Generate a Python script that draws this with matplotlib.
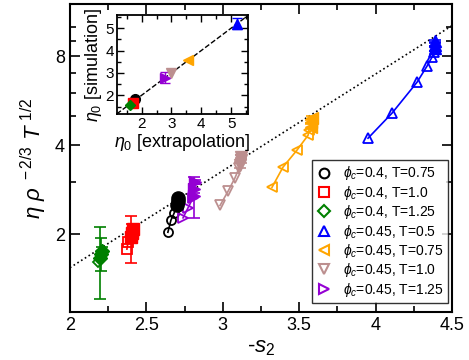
import numpy as np
import matplotlib
matplotlib.use('Agg')
import matplotlib.pyplot as plt
from matplotlib.ticker import FixedLocator, NullFormatter, MultipleLocator

plt.rcParams['font.family'] = ['Liberation Sans', 'DejaVu Sans']
plt.rcParams['mathtext.fontset'] = 'custom'
plt.rcParams['mathtext.rm'] = 'Liberation Sans'
plt.rcParams['mathtext.it'] = 'Liberation Sans:italic'

# series labels / styles
labels = [r'$\phi_c$=0.4, T=0.75', r'$\phi_c$=0.4, T=1.0', r'$\phi_c$=0.4, T=1.25',
          r'$\phi_c$=0.45, T=0.5', r'$\phi_c$=0.45, T=0.75', r'$\phi_c$=0.45, T=1.0',
          r'$\phi_c$=0.45, T=1.25']
colors = ['black', 'red', 'green', 'blue', 'orange', 'rosybrown', 'darkviolet']
markers = ['o', 's', 'D', '^', '<', 'v', '>']

# open symbols (finite-size runs): -s2 and eta*rho^-2/3*T^1/2
open_s = [[2.641, 2.661, 2.681],
          [2.373, 2.380],
          [2.183],
          [3.950, 4.107, 4.271, 4.336, 4.369, 4.382],
          [3.322, 3.394, 3.486, 3.558, 3.564],
          [2.982, 3.034, 3.080, 3.106],
          [2.740, 2.772, 2.805]]
open_v = [[2.03, 2.23, 2.35],
          [1.78, 1.88],
          [1.61],
          [4.22, 5.13, 6.53, 7.40, 7.94, 8.25],
          [2.88, 3.37, 3.85, 4.32, 4.50],
          [2.50, 2.79, 3.10, 3.34],
          [2.27, 2.45, 2.65]]

# filled symbols (extrapolated) with error bars
fill_s = [[2.700, 2.705, 2.710],
          [2.400, 2.406, 2.410],
          [2.200, 2.205, 2.208],
          [4.385, 4.388, 4.390],
          [3.575, 3.580, 3.585],
          [3.115, 3.120, 3.122],
          [2.810, 2.815, 2.820]]
fill_v = [[2.50, 2.58, 2.65],
          [1.95, 2.02, 2.08],
          [1.66, 1.72, 1.76],
          [8.50, 8.75, 9.00],
          [4.62, 4.80, 4.95],
          [3.42, 3.55, 3.65],
          [2.70, 2.85, 3.00]]
fill_err = [[0.03, 0.03, 0.03],
            [0.35, 0.14, 0.05],
            [0.45, 0.22, 0.05],
            [0.15, 0.10, 0.08],
            [0.08, 0.06, 0.05],
            [0.08, 0.06, 0.05],
            [0.43, 0.10, 0.05]]

# dotted guide: v = A*exp(k*(s-2))
guide_A = 1.54
guide_k = 0.754

# inset: eta0 extrapolation vs simulation
ins_x = [1.77, 1.70, 1.60, 5.20, 3.57, 3.00, 2.77]
ins_y = [1.84, 1.67, 1.58, 5.20, 3.58, 2.99, 2.78]
ins_err = [0.0, 0.0, 0.0, 0.25, 0.0, 0.0, 0.25]

fig = plt.figure(figsize=(4.69, 3.6), dpi=100)
ax = fig.add_axes([0.149, 0.133, 0.815, 0.856])

sg = np.linspace(2.0, 4.5, 100)
ax.plot(sg, guide_A * np.exp(guide_k * (sg - 2)), ':', color='black', lw=1.2, zorder=1)

ms_fill = {'o': 9.5, 's': 8.5, 'D': 7, '^': 8.5, '<': 8.5, 'v': 8.5, '>': 8.5}
for i in range(7):
    c = colors[i]
    m = markers[i]
    xs = open_s[i] + fill_s[i]
    ys = open_v[i] + fill_v[i]
    ax.plot(xs, ys, '-', color=c, lw=1.2, zorder=2)
    ax.plot(open_s[i], open_v[i], m, mfc='none', mec=c, mew=1.3,
            ms=6.5 if m != 'D' else 5.5, ls='none', zorder=3)
    ax.errorbar(fill_s[i], fill_v[i], yerr=fill_err[i], fmt=m, color=c,
                ms=ms_fill[m], ecolor=c, elinewidth=1.2,
                capsize=4, capthick=1.2, zorder=4)
    ax.plot([], [], m, mfc='none', mec=c, mew=1.5, ms=7 if m != 'D' else 6,
            ls='none', label=labels[i])

ax.set_yscale('log')
ax.set_xlim(2, 4.5)
ax.set_ylim(1.09, 12.0)
ax.yaxis.set_major_locator(FixedLocator([2, 4, 8]))
ax.yaxis.set_minor_locator(FixedLocator([3, 5, 6, 7, 9, 10]))
ax.yaxis.set_major_formatter(plt.FixedFormatter(['2', '4', '8']))
ax.yaxis.set_minor_formatter(NullFormatter())
ax.xaxis.set_minor_locator(MultipleLocator(0.25))
ax.set_xticks([2, 2.5, 3, 3.5, 4, 4.5])
ax.set_xticklabels(['2', '2.5', '3', '3.5', '4', '4.5'])
ax.tick_params(which='both', direction='in', top=True, right=True, labelsize=13, width=1.2)
ax.tick_params(which='major', length=7)
ax.tick_params(which='minor', length=4)
for sp in ax.spines.values():
    sp.set_linewidth(1.5)
ax.set_xlabel(r'-$\mathit{s}_2$', fontsize=16, labelpad=2)
ax.set_ylabel(r'$\eta\ \rho^{\ -2/3}\ T^{\ 1/2}$', fontsize=16, labelpad=4)

leg = ax.legend(loc='lower right', bbox_to_anchor=(0.988, 0.03), fontsize=10,
                frameon=True, fancybox=False, edgecolor='black',
                handletextpad=0.7, borderpad=0.3, labelspacing=0.1,
                handlelength=1.2, borderaxespad=0.0)
leg.get_frame().set_linewidth(1.0)

# inset
ins = fig.add_axes([0.249, 0.683, 0.279, 0.275])
ins.plot([1.17, 5.55], [1.17, 5.55], '--', color='black', lw=1.0, zorder=1)
for i in range(7):
    ins.errorbar(ins_x[i], ins_y[i], yerr=ins_err[i] if ins_err[i] > 0 else None,
                 fmt=markers[i], color=colors[i],
                 ms=7 if markers[i] != 'D' else 5.5, capsize=3.5, elinewidth=1.0,
                 capthick=1.0, zorder=3)
ins.set_xlim(1.17, 5.55)
ins.set_ylim(1.16, 5.58)
ins.xaxis.set_major_locator(MultipleLocator(1))
ins.xaxis.set_minor_locator(MultipleLocator(0.5))
ins.yaxis.set_major_locator(MultipleLocator(1))
ins.yaxis.set_minor_locator(MultipleLocator(0.5))
ins.tick_params(which='both', direction='in', top=True, right=True, labelsize=11,
                width=1.0, pad=2)
ins.tick_params(which='major', length=5)
ins.tick_params(which='minor', length=3)
for sp in ins.spines.values():
    sp.set_linewidth(1.3)
ins.set_xlabel(r'$\eta_0$ [extrapolation]', fontsize=13, labelpad=1)
ins.set_ylabel(r'$\eta_0$ [simulation]', fontsize=13, labelpad=1)

fig.savefig('out.png', dpi=100)
